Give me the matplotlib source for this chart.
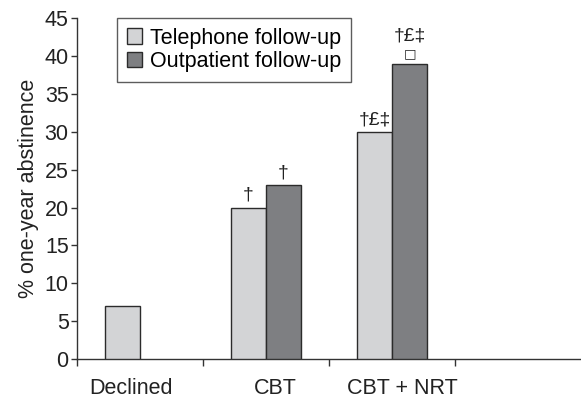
import matplotlib
matplotlib.use("Agg")
import matplotlib.pyplot as plt
from matplotlib.patches import Patch
import numpy as np

plt.rcParams['font.family'] = ['Liberation Sans', 'DejaVu Sans']

categories = ["Declined", "CBT", "CBT + NRT"]
telephone = [7, 20, 30]
outpatient = [None, 23, 39]
tele_notes = ["", "†", "†£‡"]
outp_notes = ["", "†", "†£‡"]
outp_notes2 = ["", "", "□"]
yticks = list(range(0, 50, 5))

tele_color = "#d3d4d6"
outp_color = "#7e7f82"
edge = "#2b2b2b"
FS = 15.5

fig = plt.figure(figsize=(5.81, 4.01), dpi=100)
ax = fig.add_axes([77/581, 1-359/401, 1-77/581, (359-18.3)/401])

x = np.arange(len(categories))
label_offsets = [-0.07, 0.07, 0.08]
w = 0.278
for i in range(len(categories)):
    if telephone[i] is not None:
        ax.bar(x[i]-w/2, telephone[i], w, color=tele_color, edgecolor=edge, linewidth=1.0, zorder=3)
        if tele_notes[i]:
            ax.text(x[i]-w/2, telephone[i]+0.5, tele_notes[i], ha='center', va='bottom', fontsize=FS-1.5, color='#222')
    if outpatient[i] is not None:
        ax.bar(x[i]+w/2, outpatient[i], w, color=outp_color, edgecolor=edge, linewidth=1.0, zorder=3)
        if outp_notes2[i]:
            ax.annotate(outp_notes2[i], (x[i]+w/2, outpatient[i]), xytext=(0, 2.5), textcoords='offset points',
                        ha='center', va='bottom', fontsize=9.5, color='#222', family='DejaVu Sans')
            ax.annotate(outp_notes[i], (x[i]+w/2, outpatient[i]), xytext=(0, 14), textcoords='offset points',
                        ha='center', va='bottom', fontsize=FS-1.5, color='#222')
        elif outp_notes[i]:
            ax.text(x[i]+w/2, outpatient[i]+0.5, outp_notes[i], ha='center', va='bottom', fontsize=FS-1.5, color='#222')

ax.set_xlim(-0.5, 3.5)
ax.set_ylim(0, 45)
ax.set_yticks(yticks)
ax.set_yticklabels([str(t) for t in yticks], fontsize=FS, color='#222')
ax.set_xticks([-0.5, 0.5, 1.5, 2.5])
ax.set_xticklabels([])
ax.set_xticks(x + np.array(label_offsets), minor=True)
ax.set_xticklabels(categories, minor=True, fontsize=FS, color='#222')
ax.tick_params(axis='x', which='minor', length=0, pad=14)
ax.tick_params(axis='x', which='major', length=5, width=1, color='#333', direction='out')
ax.tick_params(axis='y', length=4, width=1, color='#333', pad=2)
for s in ['top', 'right']:
    ax.spines[s].set_visible(False)
for s in ['left', 'bottom']:
    ax.spines[s].set_color('#333')
    ax.spines[s].set_linewidth(1.0)
ax.set_ylabel("% one-year abstinence", fontsize=FS, color='#222', labelpad=4)

handles = [Patch(facecolor=tele_color, edgecolor=edge, label="Telephone follow-up"),
           Patch(facecolor=outp_color, edgecolor=edge, label="Outpatient follow-up")]
leg = fig.legend(handles=handles, loc='upper left', bbox_to_anchor=(117/581, 1-18/401),
                 fontsize=FS, frameon=True, fancybox=False, handlelength=0.72, handleheight=0.72,
                 handletextpad=0.35, borderpad=0.45, labelspacing=0.1, borderaxespad=0)
leg.get_frame().set_edgecolor('#333')
leg.get_frame().set_linewidth(1.0)

fig.savefig("out.png", dpi=100)
